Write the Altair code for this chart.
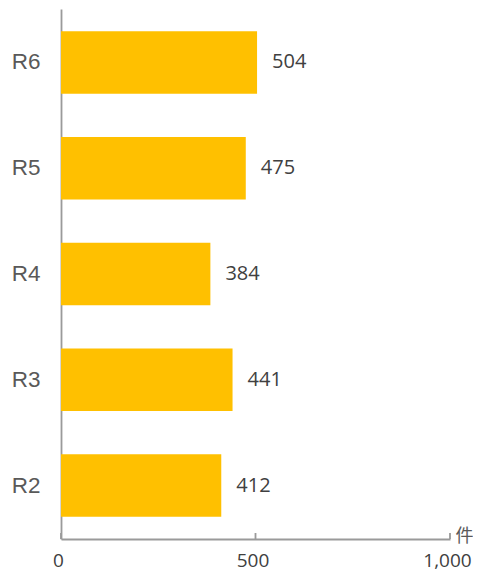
import altair as alt
import pandas as pd

years = ["R6", "R5", "R4", "R3", "R2"]
counts = [504, 475, 384, 441, 412]
tick_values = [0, 500, 1000]

df = pd.DataFrame({"year": years, "count": counts})
ticks_df = pd.DataFrame({"v": tick_values})

W, H = 389, 530
FONT = "Open Sans"
AXIS_COLOR = "#9a9a9a"

x_scale = alt.Scale(domain=[0, 1000], nice=False, zero=True)

base = alt.Chart(df)

bars = base.mark_bar(color="#FFC000").encode(
    x=alt.X(
        "count:Q",
        scale=x_scale,
        axis=alt.Axis(
            values=tick_values,
            format=",d",
            title="件",
            titleX=W + 14,
            titleY=-3,
            titleAlign="center",
            titleBaseline="middle",
            titleFontSize=18,
            titleFontWeight="normal",
            titleColor="#595959",
            titleFont="Noto Sans CJK JP",
            labelFont=FONT,
            labelFontSize=19,
            labelColor="#404040",
            labelPadding=12,
            labelOffset=-3,
            tickSize=0,
            domainColor=AXIS_COLOR,
            domainWidth=1.8,
            grid=False,
            labelFlush=False,
        ),
    ),
    y=alt.Y(
        "year:N",
        sort=years,
        scale=alt.Scale(paddingInner=0.41, paddingOuter=0.21),
        axis=alt.Axis(
            title=None,
            labelFont="Liberation Sans",
            labelFontSize=22.5,
            labelColor="#595959",
            labelPadding=21,
            ticks=False,
            domainColor=AXIS_COLOR,
            domainWidth=1.8,
            minExtent=53,
            maxExtent=53,
        ),
    ),
)

labels = base.mark_text(
    align="left", baseline="middle", dx=15, fontSize=20, font=FONT, color="#404040"
).encode(
    x=alt.X("count:Q", scale=x_scale),
    y=alt.Y("year:N", sort=years),
    text=alt.Text("count:Q"),
)

tick_rules = alt.Chart(ticks_df).mark_rule(color=AXIS_COLOR, strokeWidth=1.8).encode(
    x=alt.X("v:Q", scale=x_scale),
    y=alt.value(H - 6),
    y2=alt.value(H),
)

chart = (
    alt.layer(bars, labels, tick_rules)
    .properties(width=W, height=H, padding={"left": 0, "top": 1, "right": 0, "bottom": 2})
    .configure_view(stroke=None)
)

chart.save("out.html", embed_options={"renderer": "svg", "actions": False})
